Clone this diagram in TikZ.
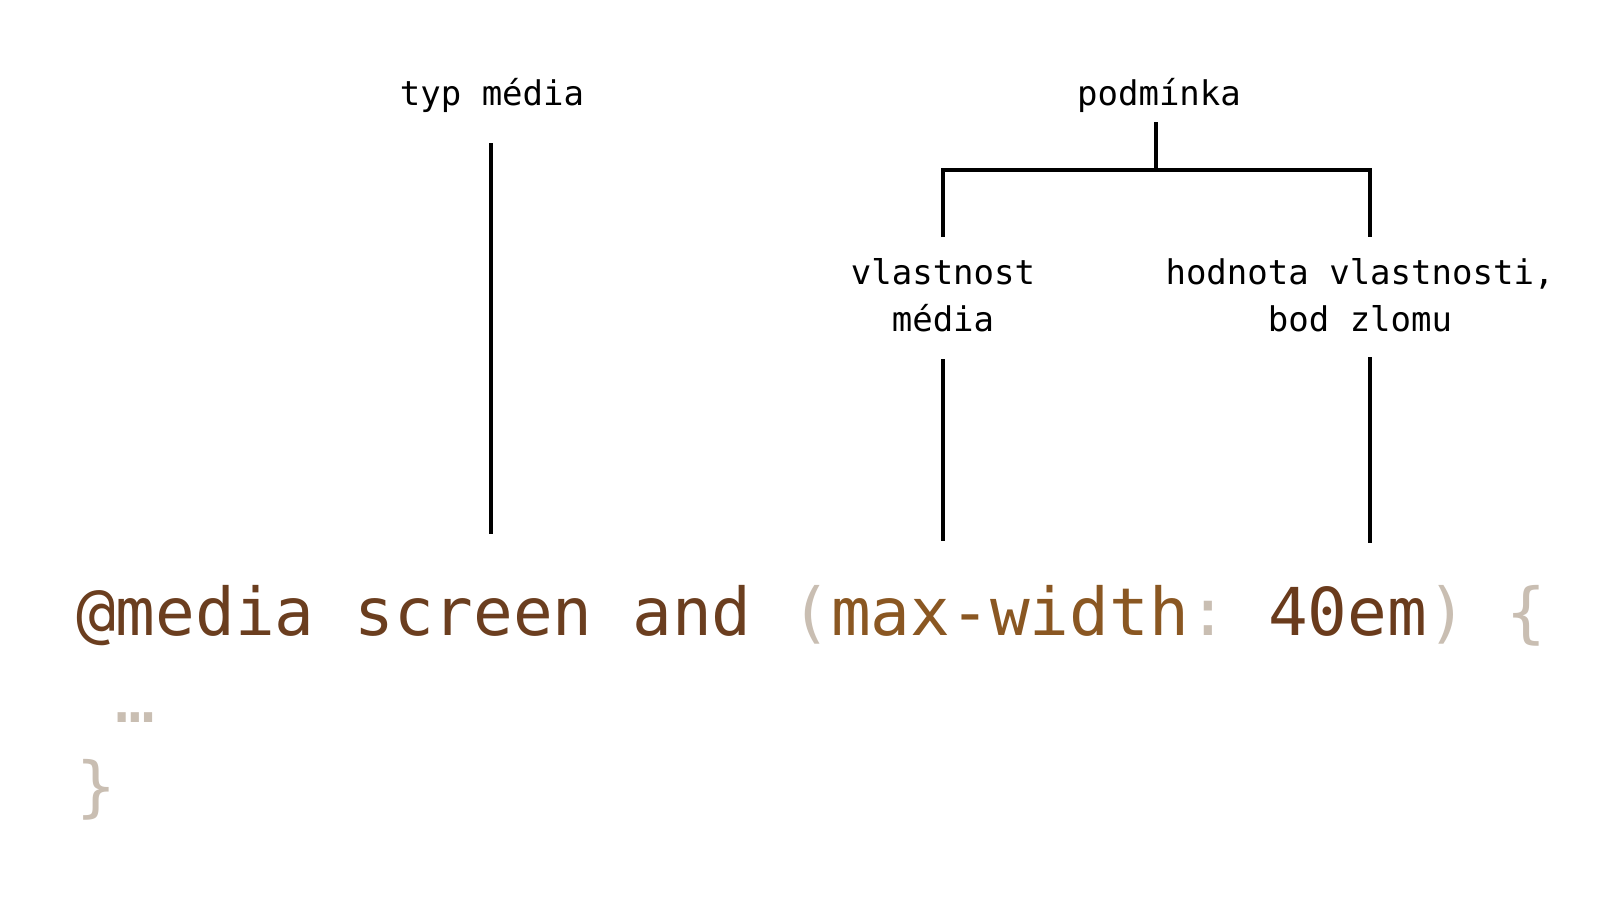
\documentclass[tikz,border=0pt]{standalone}
\usepackage{fontspec}
\newfontfamily\codefont{DejaVu Sans Mono}
\definecolor{kw}{HTML}{6B3E1F}
\definecolor{punc}{HTML}{C9BEB2}
\definecolor{prop}{HTML}{8A5722}
\definecolor{val}{HTML}{6A3B1C}
\frenchspacing
\tikzset{
  lbl/.style={font=\codefont\fontsize{34}{47}\selectfont\frenchspacing, inner sep=0pt, align=center, text=black},
  codetext/.style={font=\codefont\fontsize{66}{87}\selectfont\frenchspacing, inner sep=0pt, align=left},
  conn/.style={line width=3.6pt, draw=black}
}
\begin{document}
\begin{tikzpicture}[x=1pt,y=-1pt]
\useasboundingbox[fill=white] (0,0) rectangle (1600,900);
% labels (base anchor = baseline of the last line)
\node[lbl, anchor=base] (typ) at (492,105) {typ média};
\node[lbl, anchor=base] (podm) at (1159,105) {podmínka};
\node[lbl, anchor=base] (vlast) at (943,331) {vlastnost\\média};
\node[lbl, anchor=base] (hodn) at (1360,331) {hodnota vlastnosti,\\bod zlomu};
% code
\node[codetext, anchor=base west] (code) at (76,809) {%
\textcolor{kw}{@media screen and} \textcolor{punc}{(}\textcolor{prop}{max-width}\textcolor{punc}{:} \textcolor{val}{40em}\textcolor{punc}{)} \textcolor{punc}{\{}\\
\hphantom{x}\textcolor{punc}{…}\\
\textcolor{punc}{\}}};
% connector end points
\coordinate (typA) at (491,143);
\coordinate (typB) at (491,534);
\coordinate (podA) at (1156,122);
\coordinate (podB) at (1156,170);
\coordinate (brL) at (943,170);
\coordinate (brR) at (1370,170);
\coordinate (brLd) at (943,237);
\coordinate (brRd) at (1370,237);
\coordinate (vlA) at (943,359);
\coordinate (vlB) at (943,541);
\coordinate (hoA) at (1370,357);
\coordinate (hoB) at (1370,543);
% connectors
\draw[conn] (typA) -- (typB);
\draw[conn] (podA) -- (podB);
\draw[conn] (brLd) -- (brL) -- (brR) -- (brRd);
\draw[conn] (vlA) -- (vlB);
\draw[conn] (hoA) -- (hoB);
\end{tikzpicture}
\end{document}
